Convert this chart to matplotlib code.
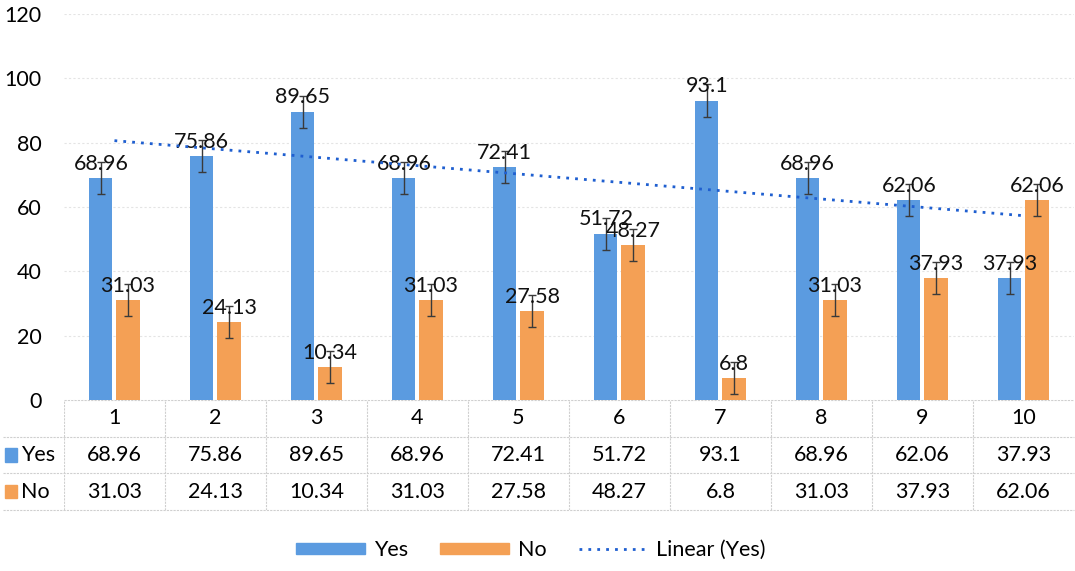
import numpy as np
import matplotlib.pyplot as plt
from matplotlib.patches import Rectangle
from matplotlib.lines import Line2D

plt.rcParams['font.family'] = ['Lato', 'DejaVu Sans']

# ---- Data ----
categories = ['1', '2', '3', '4', '5', '6', '7', '8', '9', '10']
yes_values = [68.96, 75.86, 89.65, 68.96, 72.41, 51.72, 93.1, 68.96, 62.06, 37.93]
no_values = [31.03, 24.13, 10.34, 31.03, 27.58, 48.27, 6.8, 31.03, 37.93, 62.06]
yes_labels = ['68.96', '75.86', '89.65', '68.96', '72.41', '51.72', '93.1', '68.96', '62.06', '37.93']
no_labels = ['31.03', '24.13', '10.34', '31.03', '27.58', '48.27', '6.8', '31.03', '37.93', '62.06']
error_size = 5

blue = '#5B9BE0'
orange = '#F4A055'
fs = 15.5

fig = plt.figure(figsize=(10.75, 5.71), dpi=100)
ax = fig.add_axes([0.0595, 0.2995, 0.9395, 0.676])
tab = fig.add_axes([0.0595, 0.107, 0.9395, 0.1925])

x = np.arange(len(categories))
w = 0.23
off = 0.135
ekw = dict(ecolor='#3a3a3a', elinewidth=1, capsize=3, capthick=1)
ax.bar(x - off, yes_values, w, color=blue, yerr=error_size, error_kw=ekw, zorder=2)
ax.bar(x + off, no_values, w, color=orange, yerr=error_size, error_kw=ekw, zorder=2)

for i in range(len(categories)):
    ax.annotate(yes_labels[i], (x[i] - off, yes_values[i]), xytext=(0, 3),
                textcoords='offset points', ha='center', va='bottom', fontsize=fs, color='#111111')
    ax.annotate(no_labels[i], (x[i] + off, no_values[i]), xytext=(0, 3),
                textcoords='offset points', ha='center', va='bottom', fontsize=fs, color='#111111')

# linear trendline of Yes
coef = np.polyfit(x + 1, yes_values, 1)
ax.plot(x, np.polyval(coef, x + 1), linestyle=(0, (1, 2.2)), color='#1f5fd0',
        linewidth=2, zorder=3)

ax.set_xlim(-0.5, len(categories) - 0.5)
ax.set_ylim(0, 120)
ax.set_yticks(range(0, 121, 20))
ax.tick_params(axis='y', length=0, labelsize=fs, pad=16)
ax.set_xticks([])
ax.grid(axis='y', color='#e4e4e4', linestyle=(0, (2, 2)), linewidth=0.8, zorder=0)
for s in ax.spines.values():
    s.set_visible(False)

# ---- Data table ----
tab.set_xlim(-0.5, len(categories) - 0.5)
tab.set_ylim(0, 3)
tab.axis('off')
lc = '#cfcfcf'
for i in range(len(categories)):
    tab.text(x[i], 2.5, categories[i], ha='center', va='center', fontsize=fs)
    tab.text(x[i], 1.5, yes_labels[i], ha='center', va='center', fontsize=fs)
    tab.text(x[i], 0.5, no_labels[i], ha='center', va='center', fontsize=fs)
for xv in np.arange(-0.5, len(categories) - 0.5, 1.0):
    tab.plot([xv, xv], [0, 3], color=lc, linewidth=0.8, linestyle=(0, (2, 1)))
tab.plot([-0.5, 9.5], [3, 3], color=lc, linewidth=0.8, linestyle=(0, (2, 1)))
for yv in [0, 1, 2]:
    tab.plot([-1.1, 9.5], [yv, yv], color=lc, linewidth=0.8, linestyle=(0, (2, 1)), clip_on=False)

tab.add_patch(Rectangle((-1.085, 1.32), 0.12, 0.36, color=blue, clip_on=False))
tab.text(-0.93, 1.5, 'Yes', ha='left', va='center', fontsize=fs)
tab.add_patch(Rectangle((-1.085, 0.32), 0.12, 0.36, color=orange, clip_on=False))
tab.text(-0.93, 0.5, 'No', ha='left', va='center', fontsize=fs)

# ---- Legend ----
handles = [Rectangle((0, 0), 1, 1, color=blue),
           Rectangle((0, 0), 1, 1, color=orange),
           Line2D([], [], linestyle=(0, (1, 2.2)), color='#1f5fd0', linewidth=2)]
fig.legend(handles, ['Yes', 'No', 'Linear (Yes)'], loc='center', bbox_to_anchor=(0.494, 0.037),
           ncol=3, frameon=False, fontsize=fs, handlelength=3.2, handleheight=0.4,
           columnspacing=1.5, handletextpad=0.4)

fig.savefig('out.png', dpi=100)
